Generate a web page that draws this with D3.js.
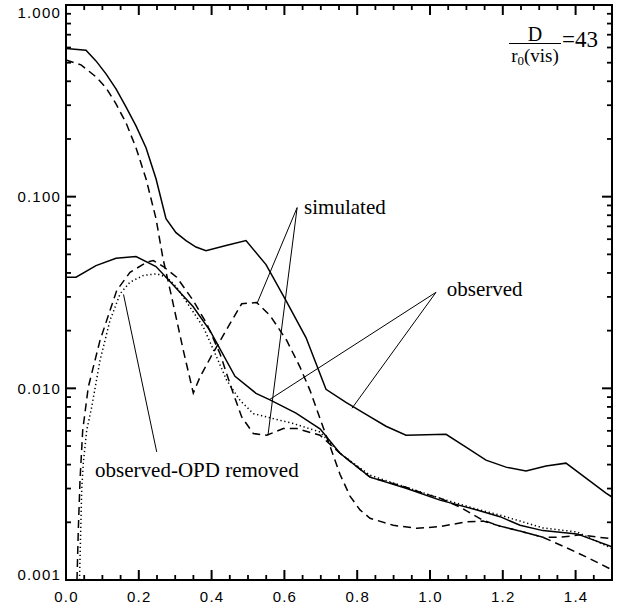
<!DOCTYPE html>
<html><head><meta charset="utf-8">
<script src="https://cdn.jsdelivr.net/npm/d3@7"></script>
<style>body{margin:0;background:#fff}svg{display:block}</style>
</head><body>
<svg id="c" width="625" height="614"></svg>
<script>
// ---------- data ----------
// observed (upper case, solid)
const obsHighX = [0, 0.0549, 0.0824, 0.1099, 0.1374, 0.1648, 0.1923, 0.2198, 0.2473, 0.2747, 0.3022, 0.3297, 0.3571, 0.3846, 0.4396, 0.4945, 0.5495, 0.6044, 0.6593, 0.7143, 0.7692, 0.8242, 0.8791, 0.9341, 1.0440, 1.0989, 1.1538, 1.2088, 1.2637, 1.3187, 1.3736, 1.4286, 1.4835, 1.5];
const obsHighY = [0.593, 0.581, 0.511, 0.437, 0.365, 0.294, 0.234, 0.180, 0.124, 0.0768, 0.0649, 0.0590, 0.0546, 0.0523, 0.0556, 0.0590, 0.0442, 0.0287, 0.0184, 0.00988, 0.00845, 0.00732, 0.00634, 0.00569, 0.00576, 0.00493, 0.00422, 0.00388, 0.00370, 0.00393, 0.00407, 0.00340, 0.00284, 0.00271];
// observed (lower case, solid)
const obsLowX = [0, 0.0275, 0.0824, 0.1374, 0.1923, 0.2473, 0.2857, 0.3489, 0.3956, 0.4643, 0.5220, 0.5604, 0.6319, 0.6978, 0.7527, 0.8352, 0.9341, 1.0275, 1.1291, 1.1923, 1.2473, 1.3104, 1.4038, 1.5];
const obsLowY = [0.0380, 0.0380, 0.0437, 0.0477, 0.0487, 0.0432, 0.0361, 0.0267, 0.0200, 0.01155, 0.00942, 0.00871, 0.00742, 0.00615, 0.00458, 0.00344, 0.00301, 0.00261, 0.00232, 0.00214, 0.00193, 0.00181, 0.00174, 0.00149];
// observed - OPD removed (dotted)
const opdX = [0.0371, 0.0431, 0.0475, 0.0569, 0.0706, 0.0934, 0.1209, 0.1484, 0.1758, 0.2124, 0.2492, 0.2766, 0.3041, 0.3407, 0.3772, 0.4140, 0.4415, 0.4780, 0.5146, 0.5695, 0.6245, 0.6978, 0.7527, 0.8352, 0.9341, 1.0275, 1.1291, 1.1923, 1.2473, 1.3104, 1.4038, 1.5];
const opdY = [0.00100, 0.00294, 0.00407, 0.00604, 0.00799, 0.01399, 0.02261, 0.0311, 0.0358, 0.0388, 0.0396, 0.0380, 0.0337, 0.0265, 0.0209, 0.01455, 0.01101, 0.00866, 0.00738, 0.00695, 0.00655, 0.00592, 0.00458, 0.00352, 0.00305, 0.00267, 0.00234, 0.00218, 0.00203, 0.00187, 0.00178, 0.00146];
// simulated (upper case, dashed)
const simHighX = [0, 0.0412, 0.0824, 0.1099, 0.1374, 0.1648, 0.1923, 0.2198, 0.2473, 0.2665, 0.2904, 0.3223, 0.3497, 0.3681, 0.4003, 0.4505, 0.4827, 0.5239, 0.5604, 0.6063, 0.6429, 0.6703, 0.6978, 0.7253, 0.7527, 0.7802, 0.8077, 0.8352, 0.8992, 0.9635, 1.0275, 1.1008, 1.1456, 1.1923, 1.2473, 1.3104, 1.3764, 1.4396, 1.5];
const simHighY = [0.517, 0.487, 0.422, 0.370, 0.305, 0.243, 0.180, 0.124, 0.0768, 0.0475, 0.0299, 0.01577, 0.00945, 0.01145, 0.01485, 0.02173, 0.02761, 0.02805, 0.0240, 0.01778, 0.01291, 0.00976, 0.00695, 0.00499, 0.00356, 0.00274, 0.00232, 0.00210, 0.00193, 0.00186, 0.00190, 0.00201, 0.00203, 0.00191, 0.00180, 0.00167, 0.00147, 0.00129, 0.00113];
// simulated (lower case, dashed)
const simLowX = [0.0302, 0.0338, 0.0385, 0.0459, 0.0613, 0.0934, 0.1393, 0.1758, 0.2217, 0.2398, 0.2673, 0.3041, 0.3497, 0.3865, 0.4231, 0.4596, 0.4827, 0.5146, 0.5514, 0.5970, 0.6338, 0.6978, 0.7527, 0.8352, 0.9341, 0.9725, 1.0275, 1.0824, 1.1456, 1.1923, 1.2473, 1.3104, 1.3571, 1.4121, 1.5];
const simLowY = [0.00100, 0.00182, 0.00332, 0.00604, 0.01016, 0.01778, 0.0324, 0.0403, 0.0455, 0.0464, 0.0432, 0.0380, 0.0287, 0.02173, 0.01516, 0.00939, 0.00709, 0.00581, 0.00569, 0.00617, 0.00617, 0.00569, 0.00459, 0.00344, 0.00305, 0.00287, 0.00267, 0.00240, 0.00205, 0.00191, 0.00180, 0.00167, 0.00167, 0.00172, 0.00164];

// ticks
const xMajor = [0, 0.2, 0.4, 0.6, 0.8, 1.0, 1.2, 1.4];
const xMinor = [0.05, 0.1, 0.15, 0.25, 0.3, 0.35, 0.45, 0.5, 0.55, 0.65, 0.7, 0.75, 0.85, 0.9, 0.95, 1.05, 1.1, 1.15, 1.25, 1.3, 1.35, 1.45];
const xTickLabels = ["0.0", "0.2", "0.4", "0.6", "0.8", "1.0", "1.2", "1.4"];
const yMajor = [0.001, 0.01, 0.1, 1];
const yTickLabels = ["0.001", "0.010", "0.100", "1.000"];
const yMantissas = [2, 3, 4, 5, 6, 7, 8, 9];
const yDecades = [0.001, 0.01, 0.1];
const yMinor = yDecades.flatMap(d => yMantissas.map(m => m * d));

// annotations (data coordinates)
const labels = [
  {text: "simulated", x: 0.654, y: 0.0815},
  {text: "observed", x: 1.046, y: 0.0305},
  {text: "observed-OPD removed", x: 0.080, y: 0.00344}
];
const leaders = [
  {x1: 0.635, y1: 0.0877, x2: 0.5247, y2: 0.0277},
  {x1: 0.635, y1: 0.0877, x2: 0.5549, y2: 0.00569},
  {x1: 1.0165, y1: 0.0317, x2: 0.5604, y2: 0.00877},
  {x1: 1.0165, y1: 0.0317, x2: 0.7857, y2: 0.00787},
  {x1: 0.2492, y1: 0.00466, x2: 0.158, y2: 0.0309}
];
const ratioValue = "=43";

// ---------- layout ----------
const L = 66, R = 612, T = 5, B = 580;
const x = d3.scaleLinear().domain([0, 1.5]).range([L, R]);
const y = d3.scaleLog().domain([0.001, 1]).range([B, T]);
const svg = d3.select("#c");
const serif = "Liberation Serif, Times New Roman, serif";
const sans = "Liberation Sans, Arial, Helvetica, sans-serif";

svg.append("defs").append("clipPath").attr("id", "clip")
  .append("rect").attr("x", L).attr("y", T).attr("width", R - L).attr("height", B - T);

const series = [
  {xs: obsHighX, ys: obsHighY, dash: null},
  {xs: obsLowX, ys: obsLowY, dash: null},
  {xs: opdX, ys: opdY, dash: "1.3,2.7"},
  {xs: simHighX, ys: simHighY, dash: "8,5"},
  {xs: simLowX, ys: simLowY, dash: "8,5"}
];
const line = d3.line().x(d => x(d[0])).y(d => y(d[1]));
const plot = svg.append("g").attr("clip-path", "url(#clip)");
series.forEach(s => {
  const pts = s.xs.map((v, i) => [v, s.ys[i]]);
  plot.append("path").attr("d", line(pts)).attr("fill", "none")
    .attr("stroke", "#000").attr("stroke-width", 1.5)
    .attr("stroke-dasharray", s.dash);
});

// leader lines
svg.append("g").selectAll("line").data(leaders).join("line")
  .attr("x1", d => x(d.x1)).attr("y1", d => y(d.y1))
  .attr("x2", d => x(d.x2)).attr("y2", d => y(d.y2))
  .attr("stroke", "#000").attr("stroke-width", 1);

// labels
svg.append("g").selectAll("text").data(labels).join("text")
  .attr("x", d => x(d.x)).attr("y", d => y(d.y))
  .attr("font-family", serif)
  .attr("font-size", 21).attr("fill", "#000").text(d => d.text);

// ---------- axes (ticks drawn from the scales) ----------
const tickColor = "#000";
function xTicks(vals, len, w) {
  [[B, -1], [T, 1]].forEach(([base, dir]) => {
    svg.append("g").selectAll("line").data(vals).join("line")
      .attr("x1", d => x(d)).attr("x2", d => x(d))
      .attr("y1", base).attr("y2", base + dir * len)
      .attr("stroke", tickColor).attr("stroke-width", w);
  });
}
function yTicks(vals, len, w) {
  [[L, 1], [R, -1]].forEach(([base, dir]) => {
    svg.append("g").selectAll("line").data(vals).join("line")
      .attr("y1", d => y(d)).attr("y2", d => y(d))
      .attr("x1", base).attr("x2", base + dir * len)
      .attr("stroke", tickColor).attr("stroke-width", w);
  });
}
xTicks(xMajor, 10, 2);
xTicks(xMinor, 5, 1.8);
yTicks(yMajor, 10, 2);
yTicks(yMinor, 5, 1.8);

svg.append("rect").attr("x", L).attr("y", T).attr("width", R - L).attr("height", B - T)
  .attr("fill", "none").attr("stroke", "#000").attr("stroke-width", 2);

// tick labels
svg.append("g").selectAll("text").data(xMajor).join("text")
  .attr("x", d => x(d) + 0.5).attr("y", B + 22).attr("text-anchor", "middle")
  .attr("font-family", sans).attr("font-size", 15).attr("letter-spacing", 1.2).attr("fill", "#000")
  .text((d, i) => xTickLabels[i]);
svg.append("g").selectAll("text").data(yMajor).join("text")
  .attr("x", L - 5).attr("y", d => Math.min(B, Math.max(T + 13, y(d) + 5.5))).attr("text-anchor", "end")
  .attr("font-family", sans).attr("font-size", 15).attr("letter-spacing", 1.2).attr("fill", "#000")
  .text((d, i) => yTickLabels[i]);

// D / r0(vis) = 43
const fx = R - 77;
const fr = svg.append("g").attr("font-family", serif).attr("fill", "#000");
fr.append("text").attr("x", fx).attr("y", T + 36).attr("text-anchor", "middle").attr("font-size", 20).text("D");
fr.append("line").attr("x1", fx - 26).attr("x2", fx + 26).attr("y1", T + 38.5).attr("y2", T + 38.5)
  .attr("stroke", "#000").attr("stroke-width", 1);
const den = fr.append("text").attr("x", fx).attr("y", T + 57).attr("text-anchor", "middle").attr("font-size", 19);
den.append("tspan").text("r");
den.append("tspan").attr("font-size", 13).attr("dy", 3).text("0");
den.append("tspan").attr("dy", -3).text("(vis)");
fr.append("text").attr("x", fx + 27).attr("y", T + 42).attr("font-size", 23).text(ratioValue);
</script>
</body></html>
